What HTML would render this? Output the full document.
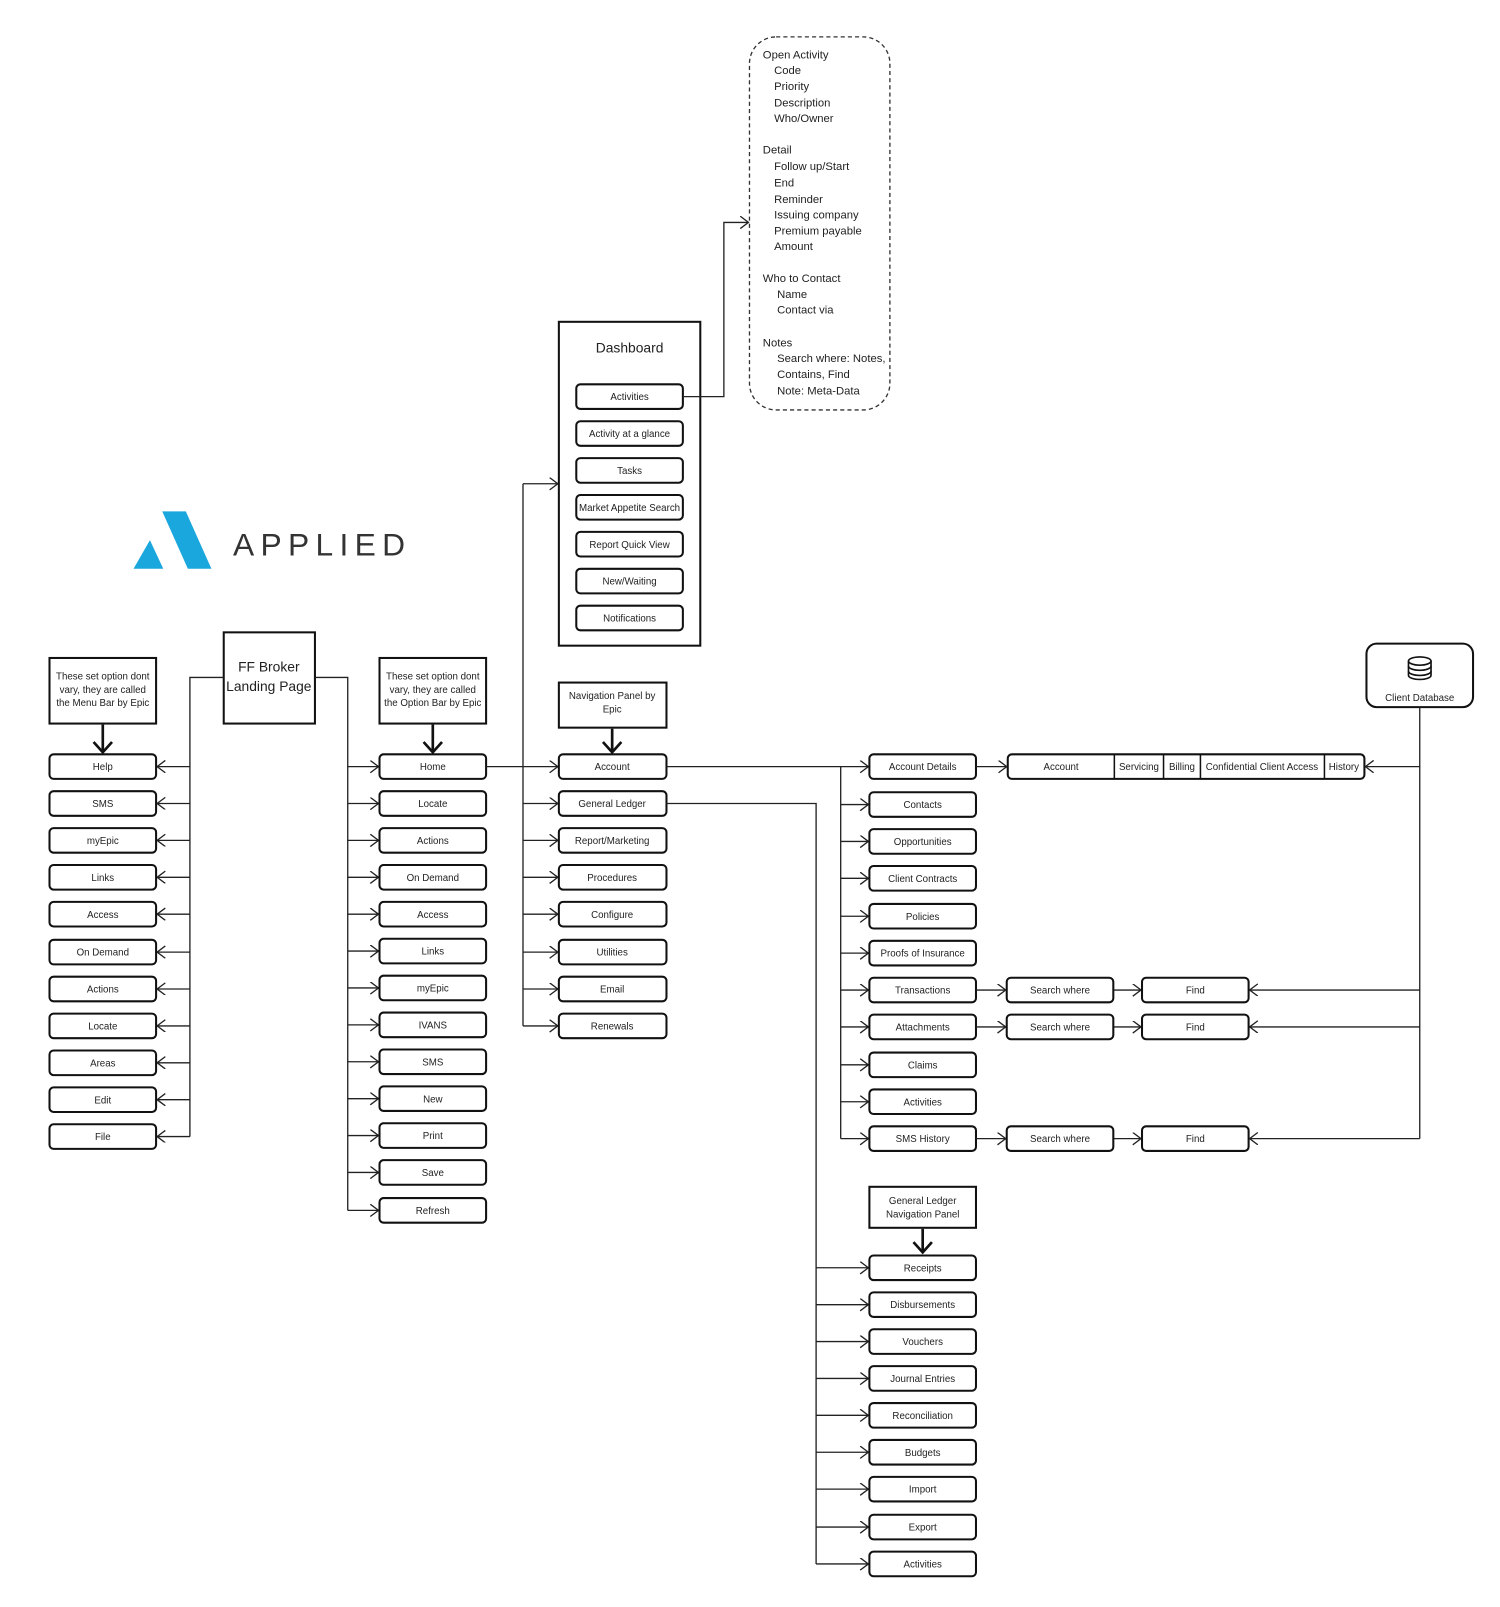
<!DOCTYPE html>
<html><head><meta charset="utf-8"><style>
html,body{margin:0;padding:0;background:#fff}
svg{display:block}
text{font-family:"Liberation Sans",sans-serif;fill:#222}
.b{fill:#fff;stroke:#111;stroke-width:2}
.t{font-size:9.5px;text-anchor:middle}
.l{stroke:#222;stroke-width:1.3;fill:none}
.h{stroke:#111;stroke-width:2.6;fill:none}
.d{font-size:11px}
</style></head><body>
<svg width="1500" height="1607" viewBox="0 0 1463 1568" xmlns="http://www.w3.org/2000/svg">
<defs>
<marker id="a" markerUnits="userSpaceOnUse" markerWidth="12" markerHeight="14" refX="9" refY="6" orient="auto">
<path d="M1,0 L9,6 L1,12" fill="none" stroke="#222" stroke-width="1.3"/>
</marker>
</defs>

<!-- Logo -->
<polygon points="130,555 146,527 159,555" fill="#1aa7de"/>
<polygon points="158,499 181,499 206,555 183,555" fill="#1aa7de"/>
<text x="227" y="542" font-size="31" fill="#333" textLength="168" lengthAdjust="spacing" style="fill:#333">APPLIED</text>

<!-- FF Broker -->
<rect class="b" x="218" y="617" width="89" height="89"/>
<text x="262" y="655" font-size="13.5" text-anchor="middle">FF Broker</text>
<text x="262" y="674" font-size="13.5" text-anchor="middle">Landing Page</text>

<!-- Left: menu bar -->
<rect class="b" x="48" y="642" width="104" height="64"/>
<text class="t" x="100" y="663">These set option dont</text>
<text class="t" x="100" y="676">vary, they are called</text>
<text class="t" x="100" y="689">the Menu Bar by Epic</text>
<line class="h" x1="100" y1="707" x2="100" y2="734"/>
<path class="h" d="M91,724 L100,734 L109,724"/>
<polyline class="l" points="218,661 185,661 185,1109"/>
<g>
<line class="l" x1="185" y1="748" x2="153" y2="748" marker-end="url(#a)"/>
<line class="l" x1="185" y1="784" x2="153" y2="784" marker-end="url(#a)"/>
<line class="l" x1="185" y1="820" x2="153" y2="820" marker-end="url(#a)"/>
<line class="l" x1="185" y1="856" x2="153" y2="856" marker-end="url(#a)"/>
<line class="l" x1="185" y1="892" x2="153" y2="892" marker-end="url(#a)"/>
<line class="l" x1="185" y1="929" x2="153" y2="929" marker-end="url(#a)"/>
<line class="l" x1="185" y1="965" x2="153" y2="965" marker-end="url(#a)"/>
<line class="l" x1="185" y1="1001" x2="153" y2="1001" marker-end="url(#a)"/>
<line class="l" x1="185" y1="1037" x2="153" y2="1037" marker-end="url(#a)"/>
<line class="l" x1="185" y1="1073" x2="153" y2="1073" marker-end="url(#a)"/>
<line class="l" x1="185" y1="1109" x2="153" y2="1109" marker-end="url(#a)"/>
</g>
<g>
<rect class="b" x="48" y="736" width="104" height="24" rx="4"/><text class="t" x="100" y="751.5">Help</text>
<rect class="b" x="48" y="772" width="104" height="24" rx="4"/><text class="t" x="100" y="787.5">SMS</text>
<rect class="b" x="48" y="808" width="104" height="24" rx="4"/><text class="t" x="100" y="823.5">myEpic</text>
<rect class="b" x="48" y="844" width="104" height="24" rx="4"/><text class="t" x="100" y="859.5">Links</text>
<rect class="b" x="48" y="880" width="104" height="24" rx="4"/><text class="t" x="100" y="895.5">Access</text>
<rect class="b" x="48" y="917" width="104" height="24" rx="4"/><text class="t" x="100" y="932.5">On Demand</text>
<rect class="b" x="48" y="953" width="104" height="24" rx="4"/><text class="t" x="100" y="968.5">Actions</text>
<rect class="b" x="48" y="989" width="104" height="24" rx="4"/><text class="t" x="100" y="1004.5">Locate</text>
<rect class="b" x="48" y="1025" width="104" height="24" rx="4"/><text class="t" x="100" y="1040.5">Areas</text>
<rect class="b" x="48" y="1061" width="104" height="24" rx="4"/><text class="t" x="100" y="1076.5">Edit</text>
<rect class="b" x="48" y="1097" width="104" height="24" rx="4"/><text class="t" x="100" y="1112.5">File</text>
</g>

<!-- Option bar -->
<rect class="b" x="370" y="642" width="104" height="64"/>
<text class="t" x="422" y="663">These set option dont</text>
<text class="t" x="422" y="676">vary, they are called</text>
<text class="t" x="422" y="689">the Option Bar by Epic</text>
<line class="h" x1="422" y1="707" x2="422" y2="734"/>
<path class="h" d="M413,724 L422,734 L431,724"/>
<polyline class="l" points="307,661 339,661 339,1181"/>
<g>
<line class="l" x1="339" y1="748" x2="369" y2="748" marker-end="url(#a)"/>
<line class="l" x1="339" y1="784" x2="369" y2="784" marker-end="url(#a)"/>
<line class="l" x1="339" y1="820" x2="369" y2="820" marker-end="url(#a)"/>
<line class="l" x1="339" y1="856" x2="369" y2="856" marker-end="url(#a)"/>
<line class="l" x1="339" y1="892" x2="369" y2="892" marker-end="url(#a)"/>
<line class="l" x1="339" y1="928" x2="369" y2="928" marker-end="url(#a)"/>
<line class="l" x1="339" y1="964" x2="369" y2="964" marker-end="url(#a)"/>
<line class="l" x1="339" y1="1000" x2="369" y2="1000" marker-end="url(#a)"/>
<line class="l" x1="339" y1="1036" x2="369" y2="1036" marker-end="url(#a)"/>
<line class="l" x1="339" y1="1072" x2="369" y2="1072" marker-end="url(#a)"/>
<line class="l" x1="339" y1="1108" x2="369" y2="1108" marker-end="url(#a)"/>
<line class="l" x1="339" y1="1144" x2="369" y2="1144" marker-end="url(#a)"/>
<line class="l" x1="339" y1="1181" x2="369" y2="1181" marker-end="url(#a)"/>
</g>
<g>
<rect class="b" x="370" y="736" width="104" height="24" rx="4"/><text class="t" x="422" y="751.5">Home</text>
<rect class="b" x="370" y="772" width="104" height="24" rx="4"/><text class="t" x="422" y="787.5">Locate</text>
<rect class="b" x="370" y="808" width="104" height="24" rx="4"/><text class="t" x="422" y="823.5">Actions</text>
<rect class="b" x="370" y="844" width="104" height="24" rx="4"/><text class="t" x="422" y="859.5">On Demand</text>
<rect class="b" x="370" y="880" width="104" height="24" rx="4"/><text class="t" x="422" y="895.5">Access</text>
<rect class="b" x="370" y="916" width="104" height="24" rx="4"/><text class="t" x="422" y="931.5">Links</text>
<rect class="b" x="370" y="952" width="104" height="24" rx="4"/><text class="t" x="422" y="967.5">myEpic</text>
<rect class="b" x="370" y="988" width="104" height="24" rx="4"/><text class="t" x="422" y="1003.5">IVANS</text>
<rect class="b" x="370" y="1024" width="104" height="24" rx="4"/><text class="t" x="422" y="1039.5">SMS</text>
<rect class="b" x="370" y="1060" width="104" height="24" rx="4"/><text class="t" x="422" y="1075.5">New</text>
<rect class="b" x="370" y="1096" width="104" height="24" rx="4"/><text class="t" x="422" y="1111.5">Print</text>
<rect class="b" x="370" y="1132" width="104" height="24" rx="4"/><text class="t" x="422" y="1147.5">Save</text>
<rect class="b" x="370" y="1169" width="104" height="24" rx="4"/><text class="t" x="422" y="1184.5">Refresh</text>
</g>

<!-- Home to nav -->
<line class="l" x1="474" y1="748" x2="544" y2="748" marker-end="url(#a)"/>
<line class="l" x1="510" y1="472" x2="510" y2="1001"/>
<line class="l" x1="510" y1="472" x2="544" y2="472" marker-end="url(#a)"/>
<line class="l" x1="510" y1="784" x2="544" y2="784" marker-end="url(#a)"/>
<line class="l" x1="510" y1="820" x2="544" y2="820" marker-end="url(#a)"/>
<line class="l" x1="510" y1="856" x2="544" y2="856" marker-end="url(#a)"/>
<line class="l" x1="510" y1="892" x2="544" y2="892" marker-end="url(#a)"/>
<line class="l" x1="510" y1="929" x2="544" y2="929" marker-end="url(#a)"/>
<line class="l" x1="510" y1="965" x2="544" y2="965" marker-end="url(#a)"/>
<line class="l" x1="510" y1="1001" x2="544" y2="1001" marker-end="url(#a)"/>

<!-- Dashboard -->
<rect class="b" x="545" y="314" width="138" height="316"/>
<text x="614" y="344" font-size="13.5" text-anchor="middle">Dashboard</text>
<g>
<rect class="b" x="562" y="375" width="104" height="24" rx="4"/><text class="t" x="614" y="390.5">Activities</text>
<rect class="b" x="562" y="411" width="104" height="24" rx="4"/><text class="t" x="614" y="426.5">Activity at a glance</text>
<rect class="b" x="562" y="447" width="104" height="24" rx="4"/><text class="t" x="614" y="462.5">Tasks</text>
<rect class="b" x="562" y="483" width="104" height="24" rx="4"/><text class="t" x="614" y="498.5">Market Appetite Search</text>
<rect class="b" x="562" y="519" width="104" height="24" rx="4"/><text class="t" x="614" y="534.5">Report Quick View</text>
<rect class="b" x="562" y="555" width="104" height="24" rx="4"/><text class="t" x="614" y="570.5">New/Waiting</text>
<rect class="b" x="562" y="591" width="104" height="24" rx="4"/><text class="t" x="614" y="606.5">Notifications</text>
</g>
<polyline class="l" points="666,387 706,387 706,217 730,217" marker-end="url(#a)"/>

<!-- Dashed notes -->
<rect x="731" y="36" width="137" height="364" rx="26" fill="#fff" stroke="#333" stroke-width="1.3" stroke-dasharray="4,3"/>
<g class="d">
<text class="d" x="744" y="57">Open Activity</text>
<text class="d" x="755" y="72">Code</text>
<text class="d" x="755" y="88">Priority</text>
<text class="d" x="755" y="104">Description</text>
<text class="d" x="755" y="119">Who/Owner</text>
<text class="d" x="744" y="150">Detail</text>
<text class="d" x="755" y="166">Follow up/Start</text>
<text class="d" x="755" y="182">End</text>
<text class="d" x="755" y="198">Reminder</text>
<text class="d" x="755" y="213">Issuing company</text>
<text class="d" x="755" y="229">Premium payable</text>
<text class="d" x="755" y="244">Amount</text>
<text class="d" x="744" y="275">Who to Contact</text>
<text class="d" x="758" y="291">Name</text>
<text class="d" x="758" y="306">Contact via</text>
<text class="d" x="744" y="338">Notes</text>
<text class="d" x="758" y="353">Search where: Notes,</text>
<text class="d" x="758" y="369">Contains, Find</text>
<text class="d" x="758" y="385">Note: Meta-Data</text>
</g>

<!-- Nav panel -->
<rect class="b" x="545" y="666" width="105" height="44"/>
<text class="t" x="597" y="682">Navigation Panel by</text>
<text class="t" x="597" y="695">Epic</text>
<line class="h" x1="597" y1="711" x2="597" y2="734"/>
<path class="h" d="M588,724 L597,734 L606,724"/>
<g>
<rect class="b" x="545" y="736" width="105" height="24" rx="4"/><text class="t" x="597" y="751.5">Account</text>
<rect class="b" x="545" y="772" width="105" height="24" rx="4"/><text class="t" x="597" y="787.5">General Ledger</text>
<rect class="b" x="545" y="808" width="105" height="24" rx="4"/><text class="t" x="597" y="823.5">Report/Marketing</text>
<rect class="b" x="545" y="844" width="105" height="24" rx="4"/><text class="t" x="597" y="859.5">Procedures</text>
<rect class="b" x="545" y="880" width="105" height="24" rx="4"/><text class="t" x="597" y="895.5">Configure</text>
<rect class="b" x="545" y="917" width="105" height="24" rx="4"/><text class="t" x="597" y="932.5">Utilities</text>
<rect class="b" x="545" y="953" width="105" height="24" rx="4"/><text class="t" x="597" y="968.5">Email</text>
<rect class="b" x="545" y="989" width="105" height="24" rx="4"/><text class="t" x="597" y="1004.5">Renewals</text>
</g>

<!-- Account branch -->
<line class="l" x1="650" y1="748" x2="847" y2="748" marker-end="url(#a)"/>
<line class="l" x1="820" y1="748" x2="820" y2="1111"/>
<line class="l" x1="820" y1="785" x2="847" y2="785" marker-end="url(#a)"/>
<line class="l" x1="820" y1="821" x2="847" y2="821" marker-end="url(#a)"/>
<line class="l" x1="820" y1="857" x2="847" y2="857" marker-end="url(#a)"/>
<line class="l" x1="820" y1="894" x2="847" y2="894" marker-end="url(#a)"/>
<line class="l" x1="820" y1="930" x2="847" y2="930" marker-end="url(#a)"/>
<line class="l" x1="820" y1="966" x2="847" y2="966" marker-end="url(#a)"/>
<line class="l" x1="820" y1="1002" x2="847" y2="1002" marker-end="url(#a)"/>
<line class="l" x1="820" y1="1039" x2="847" y2="1039" marker-end="url(#a)"/>
<line class="l" x1="820" y1="1075" x2="847" y2="1075" marker-end="url(#a)"/>
<line class="l" x1="820" y1="1111" x2="847" y2="1111" marker-end="url(#a)"/>
<g>
<rect class="b" x="848" y="736" width="104" height="24" rx="4"/><text class="t" x="900" y="751.5">Account Details</text>
<rect class="b" x="848" y="773" width="104" height="24" rx="4"/><text class="t" x="900" y="788.5">Contacts</text>
<rect class="b" x="848" y="809" width="104" height="24" rx="4"/><text class="t" x="900" y="824.5">Opportunities</text>
<rect class="b" x="848" y="845" width="104" height="24" rx="4"/><text class="t" x="900" y="860.5">Client Contracts</text>
<rect class="b" x="848" y="882" width="104" height="24" rx="4"/><text class="t" x="900" y="897.5">Policies</text>
<rect class="b" x="848" y="918" width="104" height="24" rx="4"/><text class="t" x="900" y="933.5">Proofs of Insurance</text>
<rect class="b" x="848" y="954" width="104" height="24" rx="4"/><text class="t" x="900" y="969.5">Transactions</text>
<rect class="b" x="848" y="990" width="104" height="24" rx="4"/><text class="t" x="900" y="1005.5">Attachments</text>
<rect class="b" x="848" y="1027" width="104" height="24" rx="4"/><text class="t" x="900" y="1042.5">Claims</text>
<rect class="b" x="848" y="1063" width="104" height="24" rx="4"/><text class="t" x="900" y="1078.5">Activities</text>
<rect class="b" x="848" y="1099" width="104" height="24" rx="4"/><text class="t" x="900" y="1114.5">SMS History</text>
</g>

<!-- Tabs -->
<line class="l" x1="952" y1="748" x2="982" y2="748" marker-end="url(#a)"/>
<rect class="b" x="983" y="736" width="348" height="24" rx="4"/>
<line x1="1087" y1="736" x2="1087" y2="760" stroke="#111" stroke-width="1.5"/>
<line x1="1135" y1="736" x2="1135" y2="760" stroke="#111" stroke-width="1.5"/>
<line x1="1171" y1="736" x2="1171" y2="760" stroke="#111" stroke-width="1.5"/>
<line x1="1292" y1="736" x2="1292" y2="760" stroke="#111" stroke-width="1.5"/>
<text class="t" x="1035" y="751.5">Account</text>
<text class="t" x="1111" y="751.5">Servicing</text>
<text class="t" x="1153" y="751.5">Billing</text>
<text class="t" x="1231" y="751.5">Confidential Client Access</text>
<text class="t" x="1311" y="751.5">History</text>

<!-- Client database -->
<rect class="b" x="1333" y="628" width="104" height="62" rx="10"/>
<g fill="#fff" stroke="#111" stroke-width="1.6">
<path d="M1374,645 L1374,659 A11,4 0 0 0 1396,659 L1396,645"/>
<ellipse cx="1385" cy="645" rx="11" ry="4"/>
<path d="M1374,650 A11,4 0 0 0 1396,650" fill="none"/>
<path d="M1374,655 A11,4 0 0 0 1396,655" fill="none"/>
</g>
<text class="t" x="1385" y="684">Client Database</text>
<line class="l" x1="1385" y1="690" x2="1385" y2="1111"/>
<line class="l" x1="1385" y1="748" x2="1332" y2="748" marker-end="url(#a)"/>
<line class="l" x1="1385" y1="966" x2="1219" y2="966" marker-end="url(#a)"/>
<line class="l" x1="1385" y1="1002" x2="1219" y2="1002" marker-end="url(#a)"/>
<line class="l" x1="1385" y1="1111" x2="1219" y2="1111" marker-end="url(#a)"/>

<!-- Search / Find -->
<line class="l" x1="952" y1="966" x2="981" y2="966" marker-end="url(#a)"/>
<line class="l" x1="952" y1="1002" x2="981" y2="1002" marker-end="url(#a)"/>
<line class="l" x1="952" y1="1111" x2="981" y2="1111" marker-end="url(#a)"/>
<line class="l" x1="1086" y1="966" x2="1113" y2="966" marker-end="url(#a)"/>
<line class="l" x1="1086" y1="1002" x2="1113" y2="1002" marker-end="url(#a)"/>
<line class="l" x1="1086" y1="1111" x2="1113" y2="1111" marker-end="url(#a)"/>
<rect class="b" x="982" y="954" width="104" height="24" rx="4"/><text class="t" x="1034" y="969.5">Search where</text>
<rect class="b" x="982" y="990" width="104" height="24" rx="4"/><text class="t" x="1034" y="1005.5">Search where</text>
<rect class="b" x="982" y="1099" width="104" height="24" rx="4"/><text class="t" x="1034" y="1114.5">Search where</text>
<rect class="b" x="1114" y="954" width="104" height="24" rx="4"/><text class="t" x="1166" y="969.5">Find</text>
<rect class="b" x="1114" y="990" width="104" height="24" rx="4"/><text class="t" x="1166" y="1005.5">Find</text>
<rect class="b" x="1114" y="1099" width="104" height="24" rx="4"/><text class="t" x="1166" y="1114.5">Find</text>

<!-- General Ledger branch -->
<polyline class="l" points="650,784 796,784 796,1526"/>
<rect class="b" x="848" y="1158" width="104" height="40"/>
<text class="t" x="900" y="1175">General Ledger</text>
<text class="t" x="900" y="1188">Navigation Panel</text>
<line class="h" x1="900" y1="1199" x2="900" y2="1222"/>
<path class="h" d="M891,1212 L900,1222 L909,1212"/>
<line class="l" x1="796" y1="1237" x2="847" y2="1237" marker-end="url(#a)"/>
<line class="l" x1="796" y1="1273" x2="847" y2="1273" marker-end="url(#a)"/>
<line class="l" x1="796" y1="1309" x2="847" y2="1309" marker-end="url(#a)"/>
<line class="l" x1="796" y1="1345" x2="847" y2="1345" marker-end="url(#a)"/>
<line class="l" x1="796" y1="1381" x2="847" y2="1381" marker-end="url(#a)"/>
<line class="l" x1="796" y1="1417" x2="847" y2="1417" marker-end="url(#a)"/>
<line class="l" x1="796" y1="1453" x2="847" y2="1453" marker-end="url(#a)"/>
<line class="l" x1="796" y1="1490" x2="847" y2="1490" marker-end="url(#a)"/>
<line class="l" x1="796" y1="1526" x2="847" y2="1526" marker-end="url(#a)"/>
<g>
<rect class="b" x="848" y="1225" width="104" height="24" rx="4"/><text class="t" x="900" y="1240.5">Receipts</text>
<rect class="b" x="848" y="1261" width="104" height="24" rx="4"/><text class="t" x="900" y="1276.5">Disbursements</text>
<rect class="b" x="848" y="1297" width="104" height="24" rx="4"/><text class="t" x="900" y="1312.5">Vouchers</text>
<rect class="b" x="848" y="1333" width="104" height="24" rx="4"/><text class="t" x="900" y="1348.5">Journal Entries</text>
<rect class="b" x="848" y="1369" width="104" height="24" rx="4"/><text class="t" x="900" y="1384.5">Reconciliation</text>
<rect class="b" x="848" y="1405" width="104" height="24" rx="4"/><text class="t" x="900" y="1420.5">Budgets</text>
<rect class="b" x="848" y="1441" width="104" height="24" rx="4"/><text class="t" x="900" y="1456.5">Import</text>
<rect class="b" x="848" y="1478" width="104" height="24" rx="4"/><text class="t" x="900" y="1493.5">Export</text>
<rect class="b" x="848" y="1514" width="104" height="24" rx="4"/><text class="t" x="900" y="1529.5">Activities</text>
</g>
</svg>
</body></html>
